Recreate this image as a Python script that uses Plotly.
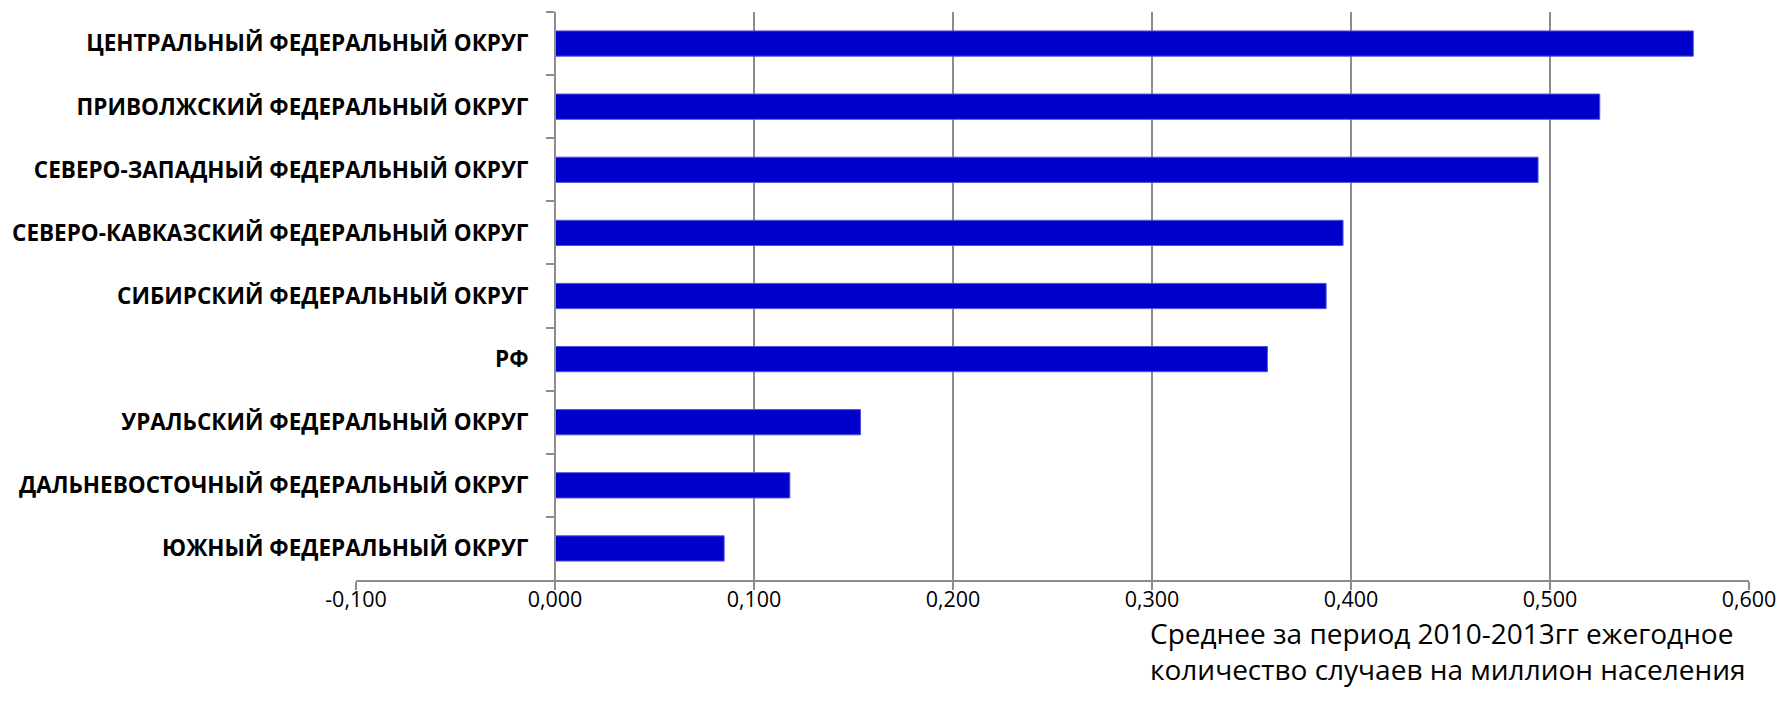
import plotly.graph_objects as go

categories = [
    "ЦЕНТРАЛЬНЫЙ ФЕДЕРАЛЬНЫЙ ОКРУГ",
    "ПРИВОЛЖСКИЙ ФЕДЕРАЛЬНЫЙ ОКРУГ",
    "СЕВЕРО-ЗАПАДНЫЙ ФЕДЕРАЛЬНЫЙ ОКРУГ",
    "СЕВЕРО-КАВКАЗСКИЙ ФЕДЕРАЛЬНЫЙ ОКРУГ",
    "СИБИРСКИЙ ФЕДЕРАЛЬНЫЙ ОКРУГ",
    "РФ",
    "УРАЛЬСКИЙ ФЕДЕРАЛЬНЫЙ ОКРУГ",
    "ДАЛЬНЕВОСТОЧНЫЙ ФЕДЕРАЛЬНЫЙ ОКРУГ",
    "ЮЖНЫЙ ФЕДЕРАЛЬНЫЙ ОКРУГ",
]
values = [0.572, 0.525, 0.494, 0.396, 0.3875, 0.358, 0.1535, 0.118, 0.085]

x_tickvals = [-0.1, 0.0, 0.1, 0.2, 0.3, 0.4, 0.5, 0.6]
x_ticktext = ["-0,100", "0,000", "0,100", "0,200", "0,300", "0,400", "0,500", "0,600"]

axis_title = "Среднее за период 2010-2013гг ежегодное<br>количество случаев на миллион населения"

grid = "#8c8c8c"

fig = go.Figure()
fig.add_trace(go.Bar(
    y=categories,
    x=values,
    orientation="h",
    marker=dict(color="#0000CC", line=dict(color="#5050DD", width=1)),
    width=0.4,
))

fig.update_layout(
    width=1788,
    height=715,
    margin=dict(l=350, r=35, t=12, b=135),
    plot_bgcolor="white",
    paper_bgcolor="white",
    showlegend=False,
    font=dict(family="Open Sans", color="black"),
    xaxis=dict(
        range=[-0.1, 0.6],
        tickvals=x_tickvals,
        ticktext=x_ticktext,
        showgrid=True,
        gridcolor=grid,
        gridwidth=2,
        zeroline=False,
        showline=True,
        linecolor=grid,
        linewidth=2,
        ticks="outside",
        ticklen=8,
        tickwidth=2,
        tickcolor=grid,
        tickfont=dict(size=21.5, family="Open Sans"),
        ticklabelstandoff=-9,
        fixedrange=True,
    ),
    yaxis=dict(
        type="category",
        autorange="reversed",
        anchor="free",
        position=1/7,
        showline=True,
        linecolor=grid,
        linewidth=2,
        showgrid=False,
        ticks="outside",
        tickson="boundaries",
        ticklen=8,
        tickwidth=2,
        tickcolor=grid,
        tickfont=dict(size=22.5, family="Open Sans", weight="bold"),
        ticklabelstandoff=21,
    ),
    annotations=[dict(
        text=axis_title,
        xref="paper", yref="paper",
        x=1, y=-0.056,
        xanchor="right", yanchor="top",
        xshift=-2,
        showarrow=False,
        align="left",
        font=dict(size=28, family="Open Sans", color="black"),
    )],
)

fig.write_html("out.html")
